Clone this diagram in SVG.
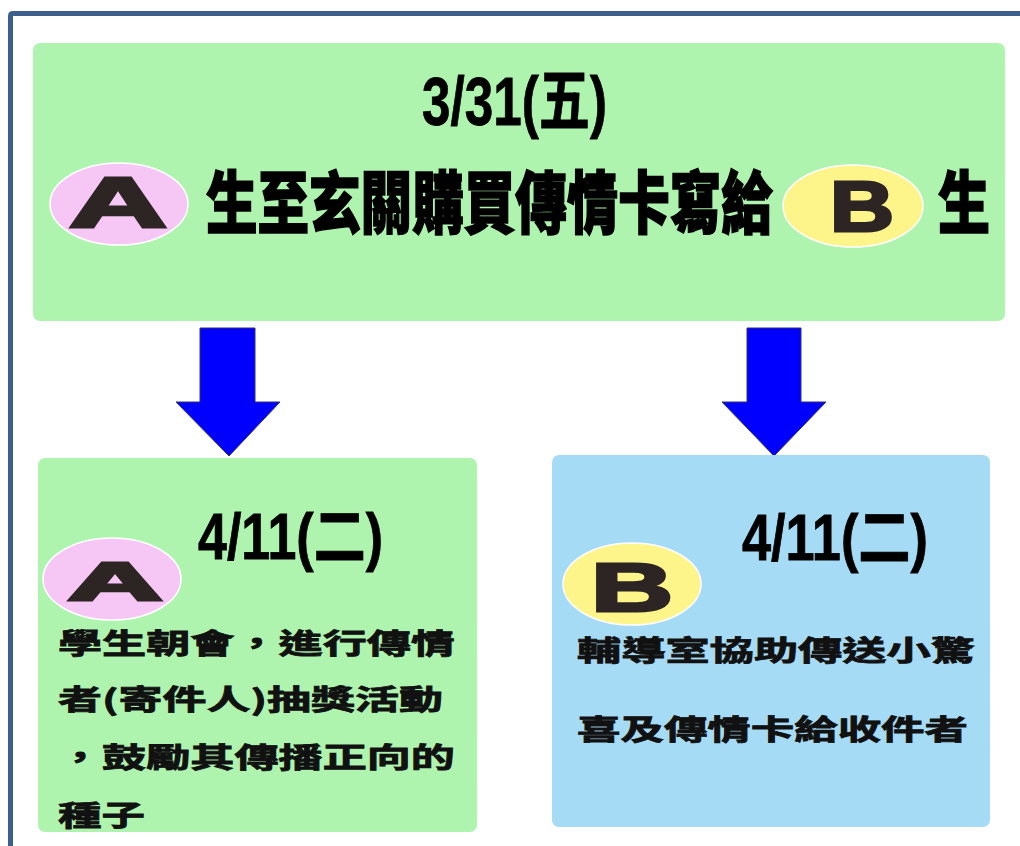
<svg xmlns="http://www.w3.org/2000/svg" width="1020" height="846" viewBox="0 0 1020 846">
<style>
.frame{fill:none;stroke:#3c5f8e;stroke-width:5}
.green{fill:#aef4ae}
.blue{fill:#a6dbf6}
.pink{fill:#f6c6f4;stroke:#ffffff;stroke-width:1.5}
.yellow{fill:#fdf58a;stroke:#ffffff;stroke-width:1.5}
.letter{font-family:"Liberation Sans",Arial,sans-serif;font-weight:bold;fill:#2d2424;stroke:#2d2424;stroke-width:3;stroke-linejoin:miter}
.date{font-family:"Liberation Sans","Noto Sans CJK TC",sans-serif;font-weight:bold;fill:#000;stroke:#000;stroke-width:0.8}
.big{font-family:"Noto Sans CJK TC","Noto Sans CJK SC",sans-serif;font-weight:900;fill:#000;stroke:#000;stroke-width:1.6}
.body{font-family:"Noto Sans CJK TC","Noto Sans CJK SC",sans-serif;font-weight:bold;font-size:28px;fill:#111;stroke:#111;stroke-width:0.8}
.arrow{fill:#0000ff;stroke:#333366;stroke-width:1}
</style>
<rect width="1020" height="846" fill="#ffffff"/>
<path class="frame" d="M10.5 846 V16 Q10.5 13.5 13 13.5 H1020"/>

<g id="top">
<rect class="green" x="33" y="43" width="972" height="278" rx="7"/>
<text class="date" x="422" y="125" font-size="68" textLength="185" lengthAdjust="spacingAndGlyphs">3/31(五)</text>
<ellipse class="pink" cx="119" cy="204" rx="69" ry="41"/>
<text class="letter" x="69" y="227" font-size="71" textLength="98" lengthAdjust="spacingAndGlyphs">A</text>
<text class="big" transform="translate(206,228) scale(0.758,1)" x="0" y="0" font-size="68">生至玄關購買傳情卡寫給</text>
<ellipse class="yellow" cx="853" cy="206" rx="70" ry="41"/>
<text class="letter" x="830" y="231" font-size="71" textLength="64" lengthAdjust="spacingAndGlyphs">B</text>
<text class="big" transform="translate(938,228) scale(0.765,1)" x="0" y="0" font-size="68">生</text>
</g>

<g id="connectors">
<polygon class="arrow" points="200,328 255,328 255,402 280,402 229,456 176,402 200,402"/>
<polygon class="arrow" points="747,328 801,328 801,402 826,402 774,456 722,402 747,402"/>
</g>

<g id="nodeA">
<rect class="green" x="38" y="458" width="439" height="374" rx="7"/>
<text class="date" x="198" y="559" font-size="64" textLength="185" lengthAdjust="spacingAndGlyphs">4/11(二)</text>
<ellipse class="pink" cx="112" cy="579" rx="69" ry="41"/>
<text class="letter" x="68" y="600" font-size="54" textLength="94" lengthAdjust="spacingAndGlyphs">A</text>
<text class="body" x="58" y="654" textLength="397" lengthAdjust="spacingAndGlyphs">學生朝會，進行傳情</text>
<text class="body" x="58" y="710" textLength="385" lengthAdjust="spacingAndGlyphs">者(寄件人)抽獎活動</text>
<text class="body" x="58" y="768" textLength="397" lengthAdjust="spacingAndGlyphs">，鼓勵其傳播正向的</text>
<text class="body" x="58" y="826" textLength="87" lengthAdjust="spacingAndGlyphs">種子</text>
</g>

<g id="nodeB">
<rect class="blue" x="552" y="455" width="438" height="372" rx="7"/>
<text class="date" x="742" y="560" font-size="64" textLength="186" lengthAdjust="spacingAndGlyphs">4/11(二)</text>
<ellipse class="yellow" cx="632" cy="584" rx="69" ry="41"/>
<text class="letter" x="591" y="611" font-size="68" textLength="82" lengthAdjust="spacingAndGlyphs">B</text>
<text class="body" x="577" y="661" textLength="398" lengthAdjust="spacingAndGlyphs">輔導室協助傳送小驚</text>
<text class="body" x="577" y="740" textLength="391" lengthAdjust="spacingAndGlyphs">喜及傳情卡給收件者</text>
</g>
</svg>
